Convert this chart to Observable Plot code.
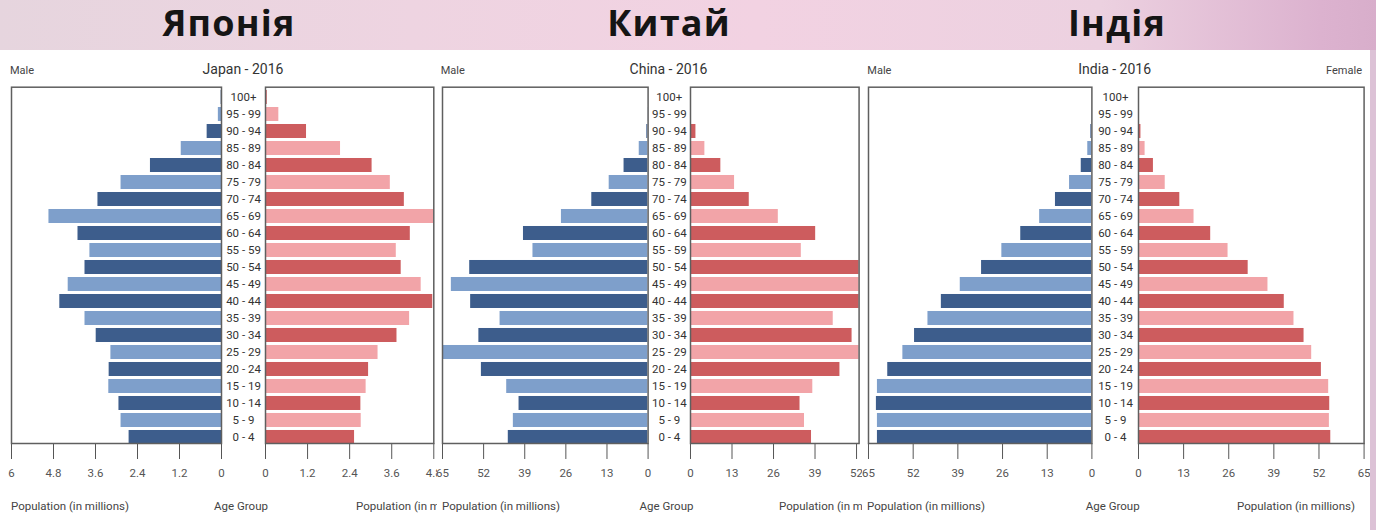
<!DOCTYPE html>
<html><head><meta charset="utf-8">
<script src="https://cdn.jsdelivr.net/npm/d3@7"></script>
<script src="https://cdn.jsdelivr.net/npm/@observablehq/plot@0.6"></script>
<style>
html,body{margin:0;padding:0;width:1376px;height:530px;overflow:hidden;background:#ffffff;}
#header{position:absolute;left:0;top:0;width:1376px;height:50px;
  background:linear-gradient(90deg,#e6d5de 0%,#eed4e1 30%,#f2d2e2 55%,#ecd1e0 80%,#dcb2cf 96%,#d8aecb 100%);}
#rstrip{position:absolute;left:1370px;top:50px;width:6px;height:480px;background:#dcc2d6;}
.panel{position:absolute;top:50px;height:480px;overflow:hidden;background:#fff;}
.t{position:absolute;white-space:nowrap;color:#444;font-family:Roboto,"Open Sans",sans-serif;line-height:1;}
.big{position:absolute;white-space:nowrap;color:#151515;font-family:"Open Sans",sans-serif;font-weight:700;font-size:36px;letter-spacing:1.2px;line-height:1;transform:translateX(-50%);}
</style>
</head><body>
<div id="header"></div>
<div id="rstrip"></div>
<div id="root"></div>
<script>
// ---------- data ----------
const ageGroups = ["0 - 4","5 - 9","10 - 14","15 - 19","20 - 24","25 - 29","30 - 34","35 - 39","40 - 44","45 - 49",
  "50 - 54","55 - 59","60 - 64","65 - 69","70 - 74","75 - 79","80 - 84","85 - 89","90 - 94","95 - 99","100+"];

const japanMale   = [2.64,2.87,2.93,3.22,3.21,3.16,3.58,3.90,4.62,4.38,3.90,3.76,4.10,4.93,3.53,2.87,2.03,1.15,0.41,0.09,0.01];
const japanFemale = [2.54,2.73,2.72,2.87,2.94,3.21,3.75,4.11,4.77,4.44,3.87,3.73,4.13,4.80,3.96,3.56,3.04,2.14,1.17,0.38,0.05];

const chinaMale   = [44.2,42.6,40.8,44.7,52.7,65.0,53.5,46.8,56.1,62.2,56.4,36.4,39.4,27.4,17.8,12.3,7.6,2.8,0.4,0.1,0.02];
const chinaFemale = [37.9,35.7,34.3,38.3,46.8,58.0,50.6,44.7,54.0,60.0,56.0,34.7,39.2,27.5,18.4,13.8,9.5,4.5,1.7,0.2,0.05];

const indiaMale   = [62.4,62.4,62.7,62.4,59.4,55.0,51.6,47.7,43.8,38.3,32.1,26.2,20.7,15.2,10.6,6.5,3.1,1.2,0.3,0.05,0.01];
const indiaFemale = [55.4,55.0,55.1,54.8,52.7,49.9,47.7,44.8,42.0,37.3,31.6,25.8,20.8,16.0,11.9,7.7,4.3,1.9,0.7,0.1,0.02];

const japanTicks = [0,1.2,2.4,3.6,4.8,6];
const chinaTicks = [0,13,26,39,52,65];
const indiaTicks = [0,13,26,39,52,65];

const countryTitles = ["Японія","Китай","Індія"];
const chartTitles = ["Japan - 2016","China - 2016","India - 2016"];

// ---------- layout ----------
const palette = {left:["#3d5d8c","#7e9fcb"], right:["#cd5c5e","#f2a4a8"]};
const SVG_TOP = 50, FRAME_TOP = 86.7, FRAME_BOTTOM = 443, SVG_H = 440;

const panels = [
  {box:[0,437], male:japanMale, female:japanFemale, ticks:japanTicks,
   L:[11,221,6], R:[265,433.3,4.8], gap:22, center:243, big:229, femaleLabel:false,
   popL:11, popR:356},
  {box:[437,862], male:chinaMale, female:chinaFemale, ticks:chinaTicks,
   L:[441.7,647.3,65], R:[689.7,858.3,52.8], gap:21.2, center:668.5, big:669, femaleLabel:false,
   popL:442, popR:779},
  {box:[862,1370], male:indiaMale, female:indiaFemale, ticks:indiaTicks,
   L:[868.3,1091.7,65], R:[1137.7,1363.3,65], gap:23, center:1114.7, big:1117, femaleLabel:true,
   popL:867, popR:1237}
];

const root = document.getElementById("root");
const fmt = d => String(+d.toFixed(1));

function half(p, side, panelEl, panelLeft) {
  const values = side === "left" ? p.male : p.female;
  const [fL, fR, max] = side === "left" ? p.L : p.R;
  const rows = ageGroups.map((age, i) => ({age, value: values[i], dark: i % 2 === 0}));
  const mL = side === "left" ? 24 : 50, mR = 24;
  const ticks = p.ticks.filter(t => t <= max + 1e-9);
  const plot = Plot.plot({
    width: fR - fL + mL + mR,
    height: SVG_H,
    marginLeft: mL, marginRight: mR,
    marginTop: FRAME_TOP - SVG_TOP,
    marginBottom: SVG_H - (FRAME_BOTTOM - SVG_TOP),
    style: {background: "transparent", overflow: "visible", color: "#555",
            fontFamily: 'Roboto,"Open Sans",sans-serif', fontSize: "11.5px"},
    x: {domain: [0, max], reverse: side === "left", ticks, tickSize: 16, tickPadding: 9,
        tickFormat: fmt, label: null},
    y: {domain: ageGroups.slice().reverse(), range: [90 - SVG_TOP, 444 - SVG_TOP],
        paddingInner: 0.176, paddingOuter: 0, round: false, axis: null},
    color: {type: "identity"},
    marks: [
      Plot.barX(rows, {x: "value", y: "age", fill: d => palette[side][d.dark ? 0 : 1], clip: true}),
      Plot.frame({stroke: "#5f5f5f", strokeWidth: 1.5}),
      side === "right"
        ? Plot.text(ageGroups, {x: () => 0, y: d => d, dx: -p.gap, textAnchor: "middle",
                                fill: "#333", fontSize: 11.5})
        : null
    ]
  });
  plot.style.position = "absolute";
  plot.style.left = (fL - mL - panelLeft) + "px";
  plot.style.top = "0px";
  panelEl.appendChild(plot);
}

function label(parent, text, x, yc, size, anchor, color) {
  const d = document.createElement("div");
  d.className = "t";
  d.textContent = text;
  d.style.fontSize = size + "px";
  d.style.left = x + "px";
  d.style.top = (yc - size / 2) + "px";
  if (color) d.style.color = color;
  if (anchor === "middle") d.style.transform = "translateX(-50%)";
  if (anchor === "end") d.style.transform = "translateX(-100%)";
  parent.appendChild(d);
}

panels.forEach((p, k) => {
  const el = document.createElement("div");
  el.className = "panel";
  el.style.left = p.box[0] + "px";
  el.style.width = (p.box[1] - p.box[0]) + "px";
  root.appendChild(el);
  half(p, "left", el, p.box[0]);
  half(p, "right", el, p.box[0]);
  const off = p.box[0], top = SVG_TOP;
  label(el, "Male", p.L[0] - 1 - off, 70 - top, 11, "start", "#444");
  label(el, chartTitles[k], p.center - off, 69 - top, 14, "middle", "#333");
  if (p.femaleLabel) label(el, "Female", 1362 - off, 70 - top, 11, "end", "#444");
  label(el, "Population (in millions)", p.popL - off, 507 - top, 11.5, "start", "#444");
  label(el, "Age Group", p.center - off - 2, 507 - top, 11.5, "middle", "#444");
  label(el, "Population (in millions)", p.popR - off, 507 - top, 11.5, "start", "#444");
  const b = document.createElement("div");
  b.className = "big";
  b.textContent = countryTitles[k];
  b.style.left = p.big + "px";
  b.style.top = "5px";
  document.body.appendChild(b);
});
</script>
</body></html>
